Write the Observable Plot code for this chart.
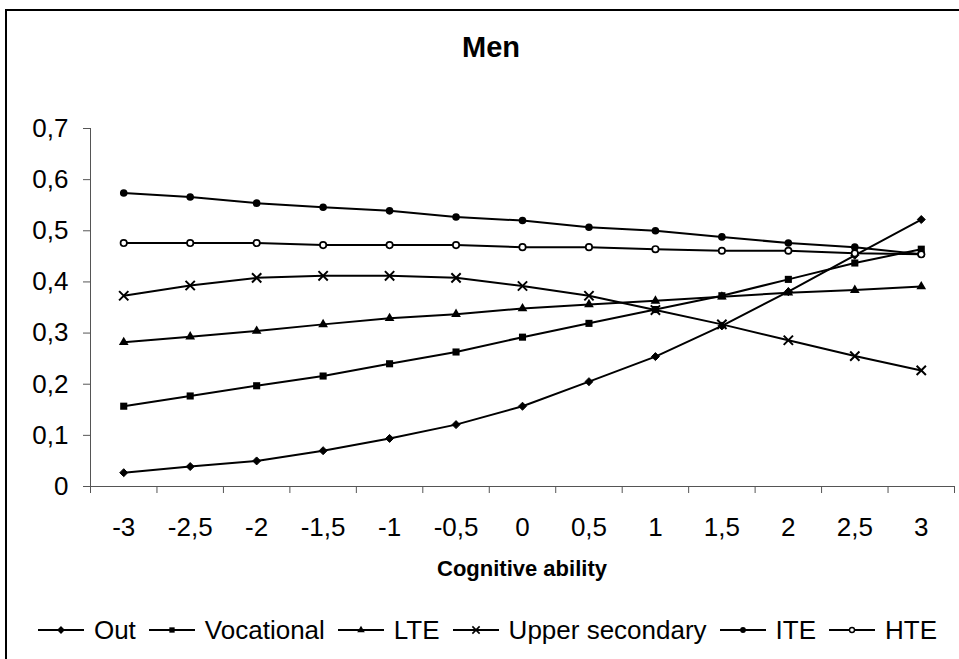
<!DOCTYPE html>
<html><head><meta charset="utf-8">
<script src="https://cdn.jsdelivr.net/npm/d3@7"></script>
<script src="https://cdn.jsdelivr.net/npm/@observablehq/plot@0.6"></script>
<style>
html,body{margin:0;padding:0;background:#fff;overflow:hidden;width:959px;height:659px;}
body{font-family:"Liberation Sans",Arial,sans-serif;position:relative;color:#000;}
#frame{position:absolute;left:5px;top:9px;width:990px;height:720px;border:2px solid #000;box-sizing:border-box;}
#chart{position:absolute;left:0;top:0;}
#title{position:absolute;left:0;width:982px;text-align:center;top:33px;font-size:29px;font-weight:bold;line-height:29px;}
#xlabel{position:absolute;left:90px;width:864px;text-align:center;top:558px;font-size:22px;font-weight:bold;line-height:22px;}
#legend{position:absolute;left:0;width:975px;top:615px;height:30px;display:flex;justify-content:center;align-items:center;font-size:26px;line-height:30px;white-space:nowrap;}
.item{display:flex;align-items:center;margin-right:13px;}
.item:last-child{margin-right:0;}
.item svg{margin-right:10px;}
</style>
</head><body>
<div id="frame"></div>
<div id="chart"></div>
<div id="title">Men</div>
<div id="xlabel">Cognitive ability</div>
<div id="legend"></div>
<script>
// ---- data ----
const xValues = [-3, -2.5, -2, -1.5, -1, -0.5, 0, 0.5, 1, 1.5, 2, 2.5, 3];
const seriesNames = ["Out", "Vocational", "LTE", "Upper secondary", "ITE", "HTE"];
const outValues = [0.027, 0.039, 0.050, 0.070, 0.094, 0.121, 0.157, 0.205, 0.254, 0.314, 0.381, 0.452, 0.522];
const vocationalValues = [0.157, 0.177, 0.197, 0.216, 0.240, 0.263, 0.292, 0.319, 0.346, 0.373, 0.405, 0.437, 0.464];
const lteValues = [0.282, 0.293, 0.304, 0.317, 0.329, 0.337, 0.348, 0.356, 0.363, 0.371, 0.379, 0.384, 0.391];
const upperSecondaryValues = [0.373, 0.393, 0.408, 0.412, 0.412, 0.408, 0.392, 0.373, 0.345, 0.317, 0.286, 0.255, 0.227];
const iteValues = [0.574, 0.566, 0.554, 0.546, 0.539, 0.527, 0.520, 0.507, 0.500, 0.488, 0.476, 0.468, 0.454];
const hteValues = [0.476, 0.476, 0.476, 0.472, 0.472, 0.472, 0.468, 0.468, 0.464, 0.461, 0.461, 0.456, 0.454];
const yTicks = [0, 0.1, 0.2, 0.3, 0.4, 0.5, 0.6, 0.7];
const xBoundaryTicks = [-3.25, -2.75, -2.25, -1.75, -1.25, -0.75, -0.25, 0.25, 0.75, 1.25, 1.75, 2.25, 2.75, 3.25];

const valuesBySeries = {
  "Out": outValues,
  "Vocational": vocationalValues,
  "LTE": lteValues,
  "Upper secondary": upperSecondaryValues,
  "ITE": iteValues,
  "HTE": hteValues
};

// ---- styles ----
const styles = {
  "Out": {symbol: "diamond2", d3sym: d3.symbolDiamond2, r: 3.6, fill: "#000", stroke: "#000", sw: 1, lr: 2.8},
  "Vocational": {symbol: "square", d3sym: d3.symbolSquare, r: 4, fill: "#000", stroke: "none", sw: 0, lr: 3},
  "LTE": {symbol: "triangle", d3sym: d3.symbolTriangle, r: 3.6, fill: "#000", stroke: "none", sw: 0, lr: 2.8},
  "Upper secondary": {symbol: "times", d3sym: d3.symbolTimes, r: 4.3, fill: "none", stroke: "#000", sw: 2, lr: 3.4},
  "ITE": {symbol: "circle", d3sym: d3.symbolCircle, r: 3.8, fill: "#000", stroke: "none", sw: 0, lr: 2.9},
  "HTE": {symbol: "circle", d3sym: d3.symbolCircle, r: 3.2, fill: "#fff", stroke: "#000", sw: 1.7, lr: 2.5}
};

const rows = seriesNames.flatMap(s => xValues.map((x, i) => ({series: s, x, y: valuesBySeries[s][i]})));
const fmt = d => String(d).replace(".", ",");

const marks = [
  Plot.axisY({ticks: yTicks, tickFormat: fmt, tickSize: 7, tickPadding: 15, label: null, fontSize: 26, stroke: "#555"}),
  Plot.axisX({ticks: xBoundaryTicks, tickSize: 7, tickFormat: () => "", label: null, stroke: "#555"}),
  Plot.axisX({ticks: xValues, tickSize: 0, tickPadding: 31, tickFormat: fmt, label: null, fontSize: 26}),
  Plot.ruleX([-3.25], {stroke: "#555", strokeWidth: 1}),
  Plot.ruleY([0], {stroke: "#555", strokeWidth: 1})
];
for (const s of seriesNames) {
  const data = rows.filter(d => d.series === s);
  const st = styles[s];
  marks.push(Plot.line(data, {x: "x", y: "y", stroke: "#000", strokeWidth: 2}));
  marks.push(Plot.dot(data, {x: "x", y: "y", symbol: () => st.symbol, r: st.r, fill: st.fill, stroke: st.stroke, strokeWidth: st.sw}));
}

const chart = Plot.plot({
  width: 959, height: 560,
  marginLeft: 90, marginRight: 5, marginTop: 128, marginBottom: 74,
  style: {fontFamily: "'Liberation Sans', Arial, sans-serif", fontSize: "26px", color: "#000", background: "transparent", overflow: "visible"},
  x: {domain: [-3.25, 3.25]},
  y: {domain: [0, 0.7]},
  marks
});
document.getElementById("chart").appendChild(chart);

// ---- legend ----
const legend = d3.select("#legend");
for (const s of seriesNames) {
  const st = styles[s];
  const item = legend.append("div").attr("class", "item");
  const svg = item.append("svg").attr("width", 46).attr("height", 16).attr("viewBox", "0 0 46 16");
  svg.append("line").attr("x1", 0).attr("x2", 46).attr("y1", 8).attr("y2", 8).attr("stroke", "#000").attr("stroke-width", 2);
  svg.append("path")
    .attr("transform", "translate(23,8)")
    .attr("d", d3.symbol(st.d3sym, Math.PI * st.lr * st.lr)())
    .attr("fill", st.fill)
    .attr("stroke", st.stroke)
    .attr("stroke-width", st.sw ? Math.max(1.2, st.sw * 0.8) : 0);
  item.append("span").text(s);
}
</script>
</body></html>
